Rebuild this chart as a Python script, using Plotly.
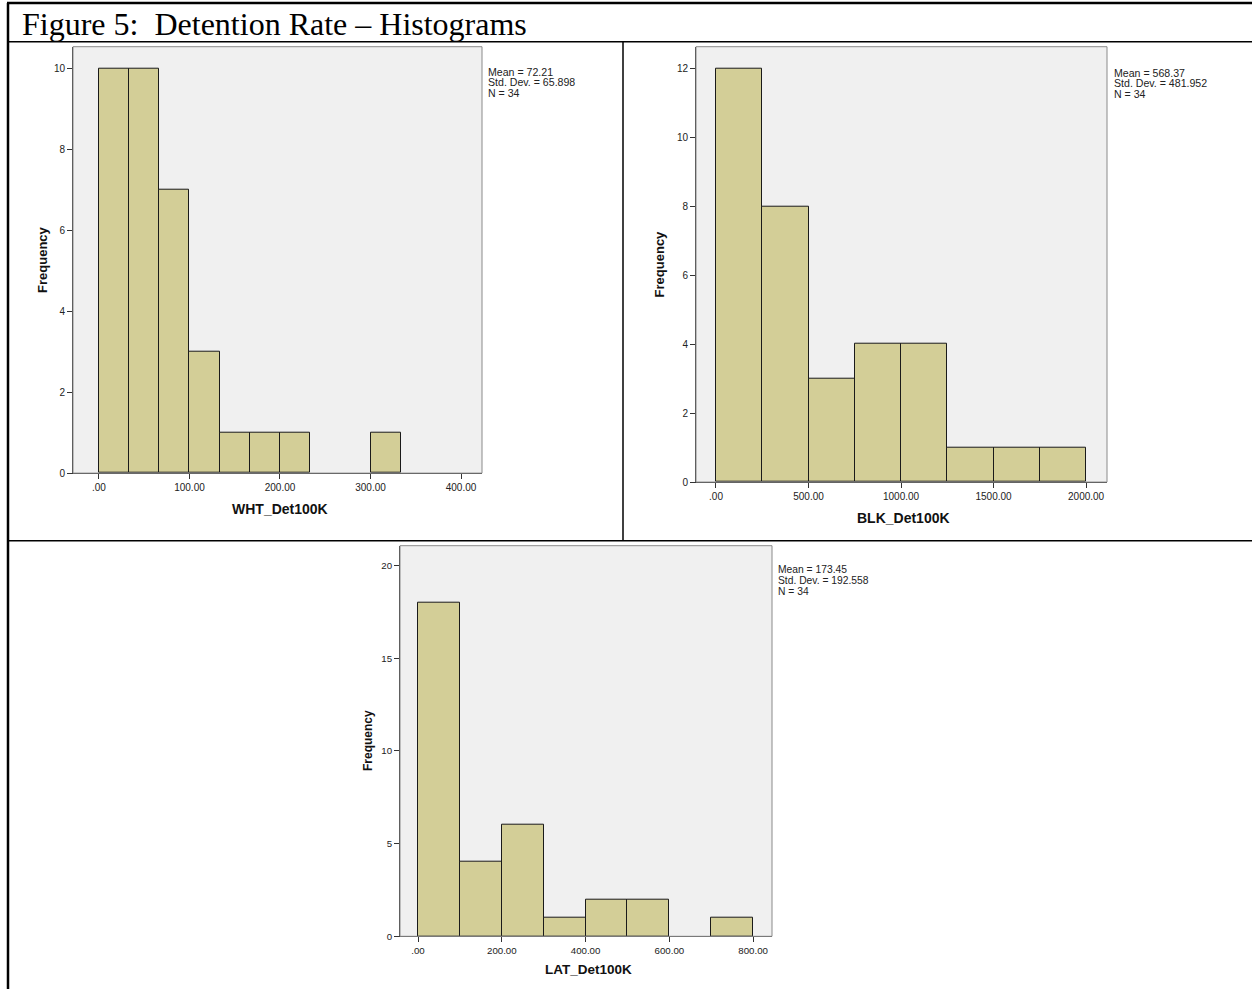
import plotly.graph_objects as go

# ---- data -------------------------------------------------------------
wht_bin_left = [0, 33.333, 66.667, 100, 133.333, 166.667, 200, 300]
wht_counts = [10, 10, 7, 3, 1, 1, 1, 1]
wht_bin_width = 33.333
wht_stats = ["Mean = 72.21", "Std. Dev. = 65.898", "N = 34"]
wht_xticks = [0, 100, 200, 300, 400]
wht_xticktext = [".00", "100.00", "200.00", "300.00", "400.00"]
wht_yticks = [0, 2, 4, 6, 8, 10]

blk_bin_left = [0, 250, 500, 750, 1000, 1250, 1500, 1750]
blk_counts = [12, 8, 3, 4, 4, 1, 1, 1]
blk_bin_width = 250
blk_stats = ["Mean = 568.37", "Std. Dev. = 481.952", "N = 34"]
blk_xticks = [0, 500, 1000, 1500, 2000]
blk_xticktext = [".00", "500.00", "1000.00", "1500.00", "2000.00"]
blk_yticks = [0, 2, 4, 6, 8, 10, 12]

lat_bin_left = [0, 100, 200, 300, 400, 500, 700]
lat_counts = [18, 4, 6, 1, 2, 2, 1]
lat_bin_width = 100
lat_stats = ["Mean = 173.45", "Std. Dev. = 192.558", "N = 34"]
lat_xticks = [0, 200, 400, 600, 800]
lat_xticktext = [".00", "200.00", "400.00", "600.00", "800.00"]
lat_yticks = [0, 5, 10, 15, 20]

variable_names = ["WHT_Det100K", "BLK_Det100K", "LAT_Det100K"]
title_text = "Figure 5:  Detention Rate \u2013 Histograms"

# ---- page geometry (pixels) -------------------------------------------
W, H = 1252, 995
BAR_FILL = "#D3CE97"
BG = "#F0F0F0"
FONT = "Liberation Sans"
TXT = "#222222"


def px(x):
    return x / W


def py(y):
    return 1 - y / H


panels = [
    dict(left=wht_bin_left, counts=wht_counts, bw=wht_bin_width, stats=wht_stats,
         xt=wht_xticks, xtt=wht_xticktext, yt=wht_yticks,
         box=(73, 482, 47, 476), xr=[-28.7, 423.2], yr=[0, 10.54],
         stat_xy=(486, 72), xlab_y=512, ylab_x=43, fs=10, tfx=14, tfy=13),
    dict(left=blk_bin_left, counts=blk_counts, bw=blk_bin_width, stats=blk_stats,
         xt=blk_xticks, xtt=blk_xticktext, yt=blk_yticks,
         box=(696, 1107, 47, 485), xr=[-108, 2113], yr=[0, 12.63],
         stat_xy=(1112, 73), xlab_y=521, ylab_x=659, fs=10, tfx=14, tfy=13),
    dict(left=lat_bin_left, counts=lat_counts, bw=lat_bin_width, stats=lat_stats,
         xt=lat_xticks, xtt=lat_xticktext, yt=lat_yticks,
         box=(400, 772, 549, 942), xr=[-43, 845], yr=[0, 21.07],
         stat_xy=(776, 573), xlab_y=975, ylab_x=368, fs=9.7, tfx=13.5, tfy=12),
]

fig = go.Figure()
annotations = []
shapes = []

for i, p in enumerate(panels):
    n = "" if i == 0 else str(i + 1)
    xa, ya = "x" + n, "y" + n
    centers = [l + p["bw"] / 2 for l in p["left"]]
    fig.add_trace(go.Bar(
        x=centers, y=p["counts"], width=p["bw"],
        marker=dict(color=BAR_FILL, line=dict(color="#1a1a1a", width=1)),
        xaxis=xa, yaxis=ya, showlegend=False, hoverinfo="x+y",
    ))
    x0, x1, y0, y1 = p["box"]
    axis_common = dict(showgrid=False, zeroline=False, showline=True,
                       linecolor="#333333", linewidth=1, ticks="outside",
                       ticklen=5, tickcolor="#333333",
                       tickfont=dict(family=FONT, size=p["fs"], color=TXT))
    fig.layout["xaxis" + n] = dict(
        domain=[px(x0), px(x1)], range=p["xr"], anchor=ya,
        tickmode="array", tickvals=p["xt"], ticktext=p["xtt"], **axis_common)
    fig.layout["yaxis" + n] = dict(
        domain=[py(y1), py(y0)], range=p["yr"], anchor=xa,
        tickmode="array", tickvals=p["yt"], **axis_common)

    # light grey frame around the plot area
    shapes.append(dict(type="rect", xref=xa + " domain", yref=ya + " domain",
                       x0=0, x1=1, y0=0, y1=1,
                       line=dict(color="#8a8a8a", width=1), layer="above"))

    # summary statistics beside the frame
    sx, sy = p["stat_xy"]
    for k, line in enumerate(p["stats"]):
        annotations.append(dict(
            text=line, xref="paper", yref="paper",
            x=px(sx), y=py(sy + k * 10.8), xanchor="left", yanchor="middle",
            showarrow=False, font=dict(family=FONT, size=p["fs"] + 0.6, color=TXT)))

    # axis titles
    annotations.append(dict(
        text="<b>%s</b>" % variable_names[i], xref="paper", yref="paper",
        x=px((x0 + x1) / 2 + 2), y=py(p["xlab_y"]), xanchor="center",
        yanchor="middle", showarrow=False,
        font=dict(family=FONT, size=p["tfx"], color="#111111")))
    annotations.append(dict(
        text="<b>Frequency</b>", xref="paper", yref="paper",
        x=px(p["ylab_x"]), y=py((y0 + y1) / 2), xanchor="center",
        yanchor="middle", textangle=-90, showarrow=False,
        font=dict(family=FONT, size=p["tfy"], color="#111111")))

# figure caption
annotations.append(dict(
    text=title_text, xref="paper", yref="paper", x=px(20), y=py(24),
    xanchor="left", yanchor="middle", showarrow=False,
    font=dict(family="Liberation Serif", size=32, color="#000000")))

# table rules around the panels
rules = [
    (7, 3, 1252, 3, 2.5),      # top border
    (8, 3, 8, 995, 2.5),       # left border
    (8, 42, 1252, 42, 1.5),    # under caption
    (623, 42, 623, 544, 1.5),  # between upper panels
    (8, 544, 1252, 544, 1.5),  # between rows
]
for xa0, ya0, xa1, ya1, w in rules:
    shapes.append(dict(type="line", xref="paper", yref="paper",
                       x0=px(xa0), y0=py(ya0), x1=px(xa1), y1=py(ya1),
                       line=dict(color="#000000", width=w), layer="above"))

fig.update_layout(
    width=W, height=H, margin=dict(l=0, r=0, t=0, b=0),
    paper_bgcolor="white", plot_bgcolor=BG, bargap=0,
    annotations=annotations, shapes=shapes,
)

fig.write_html("out.html")
